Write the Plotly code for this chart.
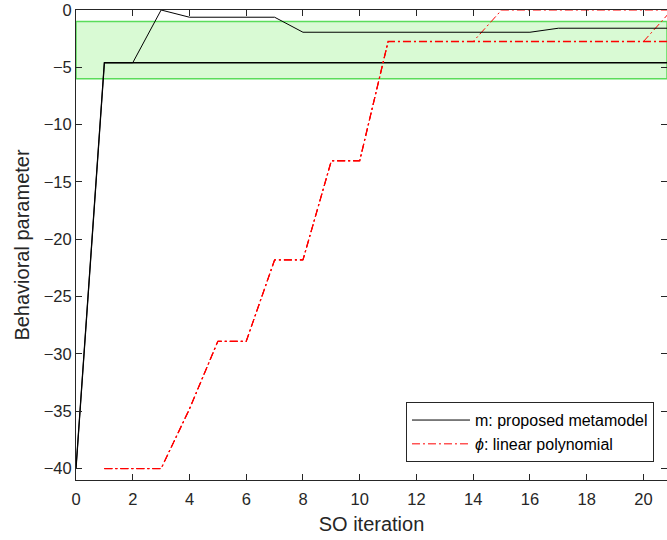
import plotly.graph_objects as go

# ---- data ----
iters_m = list(range(0, 22))
m_run1 = [-40, -4.6, -4.6, 0, -0.63, -0.63, -0.63, -0.63, -1.94, -1.94, -1.94,
          -1.94, -1.94, -1.94, -1.94, -1.94, -1.94, -1.59, -1.59, -1.59, -1.59, -1.59]
m_run2 = [-40] + [-4.6] * 21

iters_phi = list(range(1, 22))
phi_base = [-40, -40, -40, -34.8, -28.9, -28.9, -21.8, -21.8, -13.15, -13.15, -2.75]
phi_run1 = phi_base + [-2.75] * 10                      # x 1..21
phi_run2 = phi_base + [-2.75, -2.75, -2.75, 0, 0, 0, 0, 0, 0, 0]
phi_run3 = phi_base + [-2.75] * 9 + [0]

band_low, band_high = -6, -1

x_ticks = list(range(0, 22, 2))
y_ticks = list(range(-40, 1, 5))

# ---- figure ----
fig = go.Figure()
axis_col = "rgb(38,38,38)"
red = "rgb(255,0,0)"
dashdot = "8px,3px,2px,3px"

fig.add_shape(type="rect", xref="paper", yref="y", x0=0, x1=1, y0=band_low, y1=band_high,
              fillcolor="rgb(217,250,212)", line=dict(color="rgb(90,220,90)", width=1.5),
              layer="below")

fig.add_trace(go.Scatter(x=iters_m, y=m_run2, mode="lines", line=dict(color="black", width=1.3),
                         showlegend=False))
fig.add_trace(go.Scatter(x=iters_phi, y=phi_run1, mode="lines",
                         line=dict(color=red, width=1.3, dash=dashdot), showlegend=False))
fig.add_trace(go.Scatter(x=iters_phi, y=phi_run2, mode="lines",
                         line=dict(color=red, width=1, dash=dashdot), showlegend=False))
fig.add_trace(go.Scatter(x=iters_phi, y=phi_run3, mode="lines",
                         line=dict(color=red, width=1, dash=dashdot), showlegend=False))
fig.add_trace(go.Scatter(x=iters_m, y=m_run1, mode="lines", line=dict(color="black", width=1),
                         name="m: proposed metamodel"))
fig.add_trace(go.Scatter(x=[None], y=[None], mode="lines",
                         line=dict(color=red, width=1, dash=dashdot),
                         name="<i>ϕ</i>: linear polynomial"))

font_family = "Liberation Sans, Arial, sans-serif"
fig.update_layout(
    width=667, height=540,
    margin=dict(l=76, r=0, t=10, b=60),
    paper_bgcolor="white", plot_bgcolor="white",
    font=dict(family=font_family, size=17, color=axis_col),
    legend=dict(x=0.978, y=0.038, xanchor="right", yanchor="bottom",
                bgcolor="white", bordercolor=axis_col, borderwidth=1,
                font=dict(size=16, color="black"), itemwidth=58,
                tracegroupgap=0),
    xaxis=dict(range=[0, 20.83], tickvals=x_ticks, ticks="inside", ticklen=6,
               tickcolor=axis_col, showline=True, linecolor=axis_col, linewidth=1,
               mirror="ticks", showgrid=False, zeroline=False,
               tickfont=dict(size=16.5), ticklabelstandoff=4,
               title=dict(text="SO iteration", font=dict(size=20), standoff=10)),
    yaxis=dict(range=[-41, 0], tickvals=y_ticks, ticks="inside", ticklen=6,
               tickcolor=axis_col, showline=True, linecolor=axis_col, linewidth=1,
               mirror="ticks", showgrid=False, zeroline=False,
               tickfont=dict(size=16.5),
               title=dict(text="Behavioral parameter", font=dict(size=20), standoff=8)),
)

fig.write_html("out.html")
